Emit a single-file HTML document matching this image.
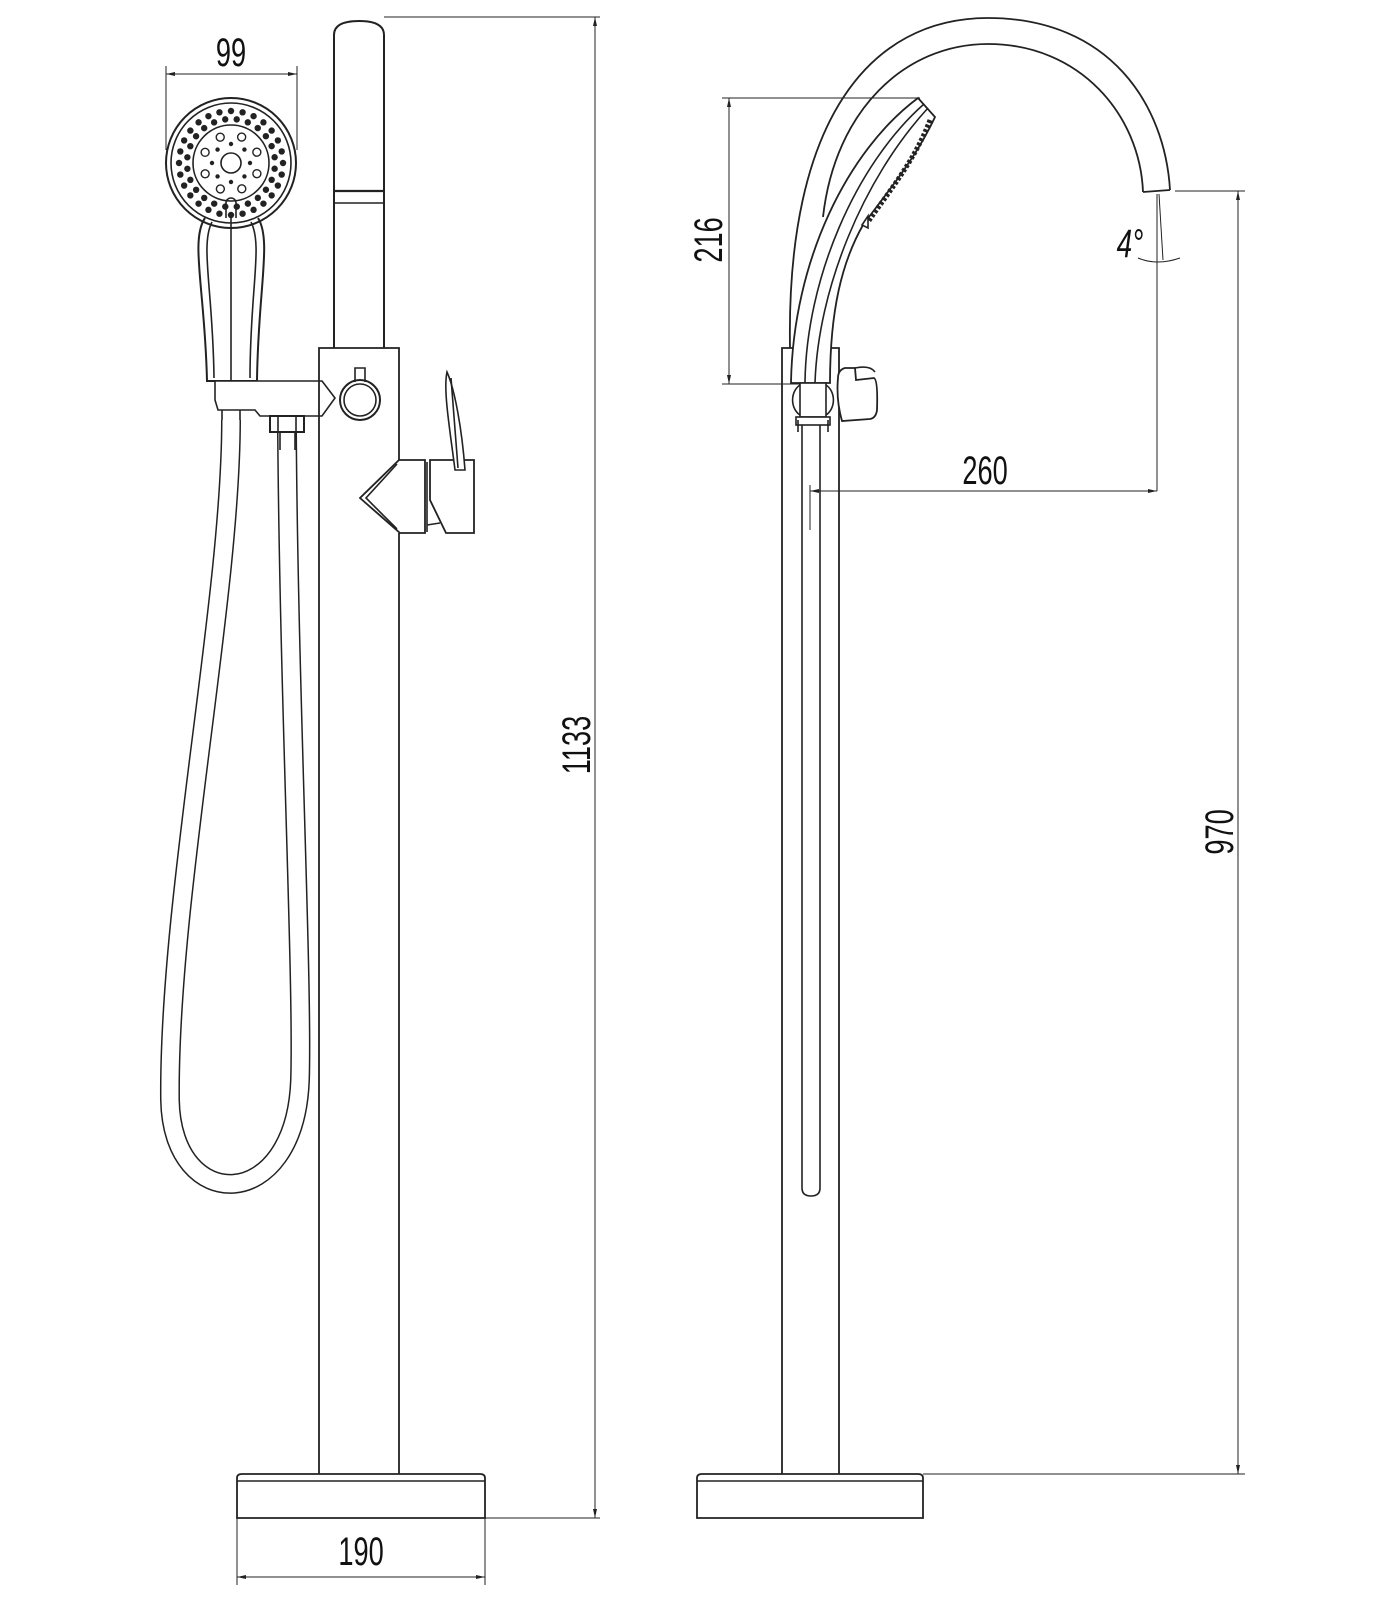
<!DOCTYPE html>
<html><head><meta charset="utf-8"><style>
html,body{margin:0;padding:0;background:#fff;}
svg{display:block;}
text{font-family:"Liberation Sans",sans-serif;fill:#111;}
</style></head><body>
<svg id="s" width="1400" height="1600" viewBox="0 0 1400 1600" xmlns="http://www.w3.org/2000/svg" fill="none" stroke="#222" stroke-width="1.6">
<!-- ===== LEFT VIEW ===== -->
<line x1="166" y1="66" x2="166" y2="150" stroke-width="1"/>
<line x1="297" y1="66" x2="297" y2="150" stroke-width="1"/>
<line x1="166" y1="74" x2="297" y2="74" stroke-width="1"/>
<path d="M166,74 l9,-2 v4z M297,74 l-9,-2 v4z" fill="#222" stroke="none"/>
<text x="0" y="0" font-size="40" text-anchor="middle" transform="translate(231,66) scale(0.68,1)" stroke="none">99</text>

<circle cx="231" cy="163" r="65" stroke-width="2"/>
<circle cx="231" cy="163" r="60"/>
<circle cx="231" cy="163" r="38"/>
<g id="holes" fill="#222" stroke="none"></g>
<circle cx="231" cy="163" r="10"/>
<path d="M205,218 C190,240 205,290 207,381 L257,381 C258,290 272,240 258,218" stroke-width="2"/>
<path d="M212,222 C200,245 213,290 214,378 M251,222 C263,245 250,290 250,378"/>
<line x1="231" y1="215" x2="231" y2="381"/>
<path d="M226,218 v-15 a5,5 0 0 1 10,0 v15"/>
<path d="M215,381 L322,381 L335,398 L322,416 L260,416 L255,410 L218,410 L215,400 Z" fill="#fff"/>
<line x1="222" y1="410" x2="222" y2="420"/>
<line x1="240" y1="410" x2="240" y2="420"/>

<path d="M334,348 L334,35 Q334,21 359,21 Q384,21 384,35 L384,348" stroke-width="2"/>
<line x1="334" y1="191" x2="384" y2="191" stroke-width="2.2"/>
<line x1="334" y1="203" x2="384" y2="203"/>
<path d="M319,1474 L319,348 L399,348 L399,460 M399,533 L399,1474" stroke-width="1.8"/>
<circle cx="360" cy="400" r="20" stroke-width="2"/>
<circle cx="360" cy="400" r="16"/>
<path d="M355,382 v-14 h10 v14"/>
<!-- mixer -->
<path d="M399,460 L360,498 L400,533 L425,533 L425,460 Z" fill="#fff" stroke-width="1.8"/>
<path d="M397,464 L366,498 L397,529"/>
<line x1="427" y1="462" x2="427" y2="532"/>
<path d="M430,460 L474,460 L474,533 L446,533 L430,500 Z" fill="#fff" stroke-width="1.8"/>
<path d="M427,525 L440,523"/>
<path d="M447,372 C443,390 450,430 455,470 L465,470 C462,430 455,390 447,372 Z" fill="#fff"/>
<line x1="451" y1="378" x2="458" y2="468"/>

<path d="M231,420 C231,600 168,900 170,1100 C172,1215 295,1215 300,1080 C303,980 289,700 287,432" stroke="#222" stroke-width="20"/>
<path d="M231,420 C231,600 168,900 170,1100 C172,1215 295,1215 300,1080 C303,980 289,700 287,432" stroke="#fff" stroke-width="17"/>
<rect x="270" y="416" width="34" height="16" fill="#fff" stroke-width="2"/>
<line x1="278" y1="416" x2="278" y2="432"/><line x1="296" y1="416" x2="296" y2="432"/>
<line x1="280" y1="432" x2="280" y2="450"/><line x1="295" y1="432" x2="295" y2="450"/>

<path d="M237,1518 L237,1478 Q237,1474 242,1474 L480,1474 Q485,1474 485,1478 L485,1518 Z" stroke-width="1.8"/>
<line x1="237" y1="1481" x2="485" y2="1481"/>
<line x1="384" y1="17" x2="600" y2="17" stroke-width="1"/>
<line x1="485" y1="1518" x2="600" y2="1518" stroke-width="1"/>
<line x1="595" y1="17" x2="595" y2="1518" stroke-width="1"/>
<path d="M595,17 l-2,9 h4z M595,1518 l-2,-9 h4z" fill="#222" stroke="none"/>
<text font-size="40" text-anchor="middle" transform="translate(590,745) rotate(-90) scale(0.68,1)" stroke="none">1133</text>
<line x1="237" y1="1518" x2="237" y2="1585" stroke-width="1"/>
<line x1="485" y1="1518" x2="485" y2="1585" stroke-width="1"/>
<line x1="237" y1="1577" x2="485" y2="1577" stroke-width="1"/>
<path d="M237,1577 l9,-2 v4z M485,1577 l-9,-2 v4z" fill="#222" stroke="none"/>
<text font-size="40" text-anchor="middle" transform="translate(361,1565) scale(0.68,1)" stroke="none">190</text>

<!-- ===== RIGHT VIEW ===== -->
<path d="M790,348 C786,120 870,18 988,18 C1110,18 1165,105 1170,190" stroke-width="1.8"/>
<path d="M823,217 C835,110 905,44 988,44 C1080,44 1140,115 1143,192" stroke-width="1.8"/>
<line x1="1143" y1="192" x2="1170" y2="190" stroke-width="1.8"/>
<path d="M782,1474 L782,348 L839,348 L839,1474" stroke-width="1.8"/>
<!-- hand shower side -->
<path d="M791,383 C793,260 848,150 918,98 L935,117 C915,160 885,195 863,225 C842,262 830,310 830,383 Z" fill="#fff" stroke-width="1.8"/>
<path d="M805,383 C806,280 855,165 924,104 M815,383 C818,290 862,180 928,108"/>
<path d="M930,120 C915,160 890,190 868,222" stroke-width="5" stroke-dasharray="3 2"/>
<path d="M868,216 l-6,9 l6,3 z" fill="#fff"/>
<rect x="800" y="383" width="26" height="34" fill="#fff"/>
<path d="M800,385 a14,17 0 0 0 0,30 M826,385 a14,17 0 0 1 0,30"/>
<rect x="796" y="417" width="34" height="8" fill="#fff"/>
<path d="M798,420 v12 M828,420 v12"/>
<path d="M838,378 Q838,370 845,368 L855,368 L856,380 L874,378 Q878,380 877,410 Q876,418 870,419 L842,421 Q836,400 838,378 Z" fill="#fff" stroke-width="1.8"/>
<path d="M855,368 Q870,365 875,372"/>
<path d="M802,425 L802,1188 Q802,1196 811,1196 Q820,1196 820,1188 L820,425"/>
<path d="M697,1518 L697,1478 Q697,1474 702,1474 L918,1474 Q923,1474 923,1478 L923,1518 Z" stroke-width="1.8"/>
<line x1="697" y1="1481" x2="923" y2="1481"/>

<line x1="722" y1="98" x2="920" y2="98" stroke-width="1"/>
<line x1="722" y1="384" x2="800" y2="384" stroke-width="1"/>
<line x1="729" y1="98" x2="729" y2="384" stroke-width="1"/>
<path d="M729,98 l-2,9 h4z M729,384 l-2,-9 h4z" fill="#222" stroke="none"/>
<text font-size="40" text-anchor="middle" transform="translate(722,240) rotate(-90) scale(0.68,1)" stroke="none">216</text>
<line x1="1157" y1="194" x2="1157" y2="491" stroke-width="1"/>
<line x1="1159" y1="194" x2="1163" y2="260" stroke-width="1"/>
<path d="M1138,258 Q1157,266 1180,258" stroke-width="1"/>
<text font-size="40" font-style="italic" text-anchor="middle" transform="translate(1130,257) scale(0.7,1)" stroke="none">4°</text>
<line x1="810" y1="485" x2="810" y2="530" stroke-width="1"/>
<line x1="810" y1="491" x2="1157" y2="491" stroke-width="1"/>
<path d="M810,491 l9,-2 v4z M1157,491 l-9,-2 v4z" fill="#222" stroke="none"/>
<text font-size="40" text-anchor="middle" transform="translate(985,484) scale(0.68,1)" stroke="none">260</text>
<line x1="1175" y1="191" x2="1245" y2="191" stroke-width="1"/>
<line x1="923" y1="1474" x2="1245" y2="1474" stroke-width="1"/>
<line x1="1238" y1="191" x2="1238" y2="1474" stroke-width="1"/>
<path d="M1238,191 l-2,9 h4z M1238,1474 l-2,-9 h4z" fill="#222" stroke="none"/>
<text font-size="40" text-anchor="middle" transform="translate(1233,832) rotate(-90) scale(0.68,1)" stroke="none">970</text>
</svg>
<script>
(function(){
var g=document.getElementById('holes'),cx=231,cy=163,ns='http://www.w3.org/2000/svg';
function dot(x,y,r,hollow){var c=document.createElementNS(ns,'circle');c.setAttribute('cx',x);c.setAttribute('cy',y);c.setAttribute('r',r);
if(hollow){c.setAttribute('fill','#fff');c.setAttribute('stroke','#222');c.setAttribute('stroke-width','1.4');}g.appendChild(c);}
function ring(R,n,r,off,h){for(var i=0;i<n;i++){var a=2*Math.PI*i/n+(off||0);dot(cx+R*Math.cos(a),cy+R*Math.sin(a),r,h);}}
ring(52,28,3.2,0);ring(44,24,3.2,0.13);ring(28,8,4,0.39,true);ring(19,8,2.2,0);
})();
</script>
</body></html>
